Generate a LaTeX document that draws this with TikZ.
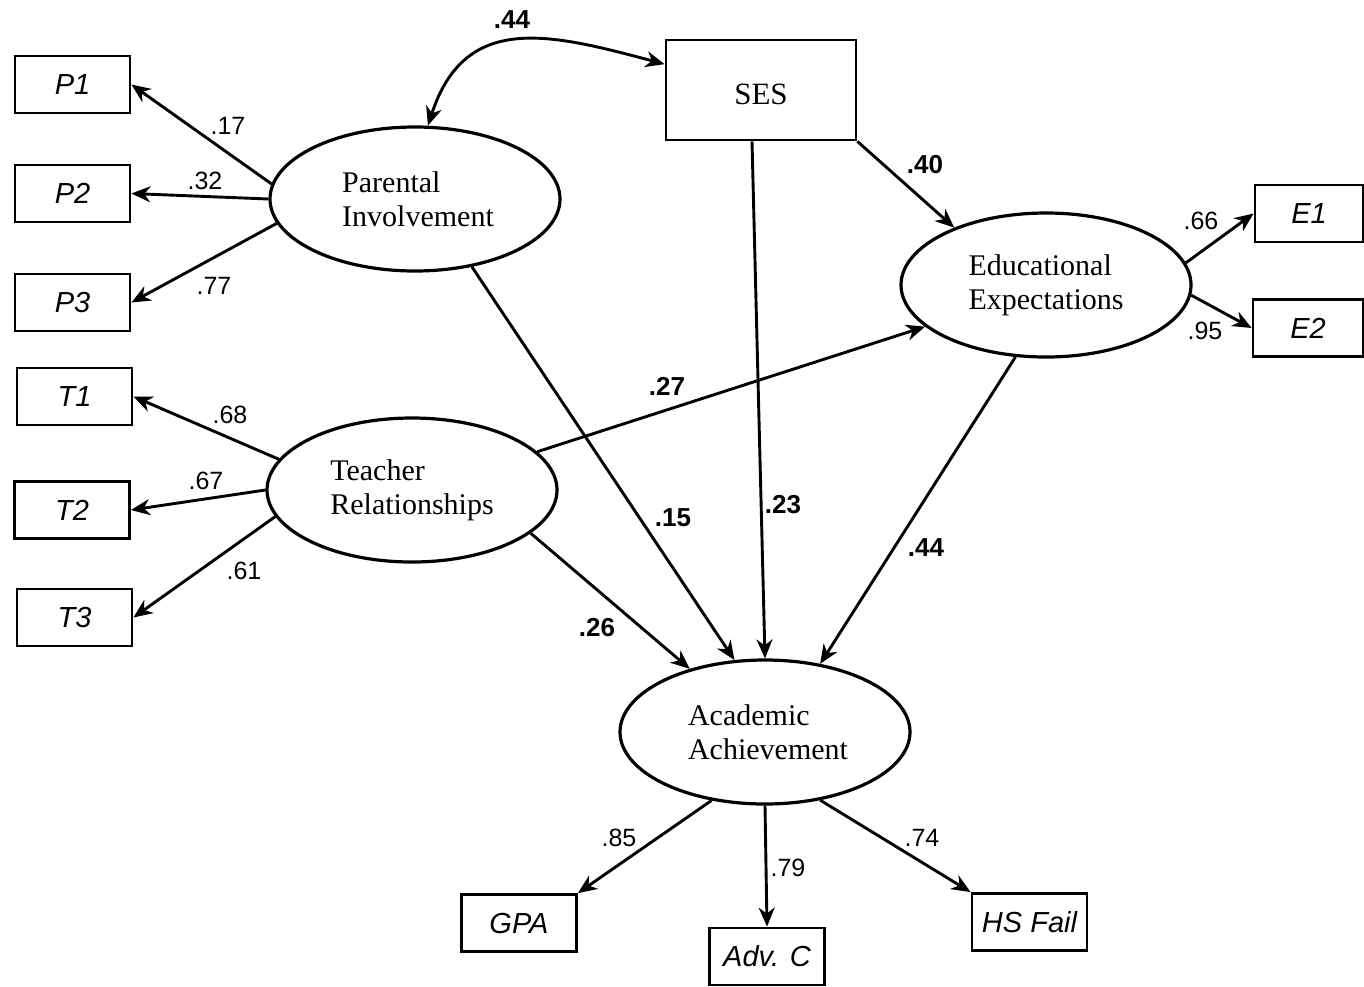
\documentclass[tikz,border=0pt]{standalone}
\usepackage{fontspec}
\setmainfont{Liberation Serif}
\newfontfamily\arialf{Liberation Sans}
\usetikzlibrary{shapes.geometric,arrows.meta}
\begin{document}
\begin{tikzpicture}[x=1pt,y=1pt,
  obs/.style={draw, line width=2.8pt, minimum width=115pt, minimum height=57pt, inner sep=0pt, font=\arialf\itshape\fontsize{29}{34}\selectfont},
  lat/.style={ellipse, draw, line width=3.2pt, minimum width=290pt, minimum height=144pt, inner sep=0pt, align=left, font=\fontsize{30}{34}\selectfont},
  lab/.style={font=\arialf\fontsize{25}{28}\selectfont, inner sep=0pt},
  blab/.style={font=\arialf\bfseries\fontsize{26}{28}\selectfont, inner sep=0pt},
  arr/.style={line width=2.9pt, -{Stealth[length=19pt,width=16pt,inset=6pt]}},
  darr/.style={line width=2.9pt, {Stealth[length=19pt,width=16pt,inset=6pt]}-{Stealth[length=19pt,width=16pt,inset=6pt]}}
]
\useasboundingbox (0,0) rectangle (1364,-986);
% observed
\node[obs] (P1) at (72.5,-84.5) {P1};
\node[obs] (P2) at (72.5,-193.5) {P2};
\node[obs] (P3) at (72.5,-302.5) {P3};
\node[obs] (T1) at (74.5,-396.5) {T1};
\node[obs] (T2) at (72,-510) {T2};
\node[obs] (T3) at (74.5,-617.5) {T3};
\node[obs, minimum width=108pt] (E1) at (1309,-213.5) {E1};
\node[obs, minimum width=110pt] (E2) at (1308,-328) {E2};
\node[obs] (GPA) at (519,-923) {GPA};
\node[obs] (ADV) at (767,-956.5) {Adv. C};
\node[obs] (HS) at (1029.5,-922) {HS Fail};
\node[draw, line width=2.8pt, minimum width=190pt, minimum height=100pt, inner sep=0pt, text height=28pt, text depth=0pt, font=\fontsize{31}{34}\selectfont] (SES) at (761,-90) {SES};
% latent
\node[lat] (PI) at (415,-199) {\hspace{6pt}Parental\\\hspace{6pt}Involvement};
\node[lat] (TR) at (412,-490) {Teacher\\Relationships};
\node[lat] (EE) at (1046,-285) {Educational\\Expectations};
\node[lat] (AA) at (765,-732) {\hspace{6pt}Academic\\\hspace{6pt}Achievement};
% measurement arrows
\draw[arr] (PI.174) -- (P1.east);
\draw[arr] (PI.west) -- (P2.east);
\draw[arr] (PI.190) -- (P3.east);
\draw[arr] (TR.167) -- (T1.east);
\draw[arr] (TR.west) -- (T2.east);
\draw[arr] (TR.191) -- (T3.east);
\draw[arr] (EE.9) -- (E1.west);
\draw[arr] (EE.356) -- (E2.west);
\draw[arr] (AA.232) -- (GPA.north east);
\draw[arr] (AA.south) -- (ADV.north);
\draw[arr] (AA.309) -- (HS.north west);
% structural arrows
\draw[arr] (SES.south east) -- (EE.148);
\draw[arr] ([xshift=-9pt]SES.south) -- (AA.north);
\draw[arr] (PI.310) -- (AA.113);
\draw[arr] (TR.340) -- (AA.140);
\draw[arr] (TR.17) -- (EE.199);
\draw[arr] (EE.247) -- (AA.51);
\draw[darr] (PI.80) to[out=72, in=165, looseness=1.25] (SES.165);
% labels
\node[blab] (l44a) at (512,-20) {.44};
\node[lab] (l17) at (228,-126) {.17};
\node[lab] (l32) at (205,-181) {.32};
\node[lab] (l77) at (214,-286) {.77};
\node[lab] (l68) at (230,-415) {.68};
\node[lab] (l67) at (206,-481) {.67};
\node[lab] (l61) at (244,-571) {.61};
\node[blab] (l40) at (925,-165) {.40};
\node[blab] (l27) at (667,-386) {.27};
\node[blab] (l15) at (673,-518) {.15};
\node[blab] (l23) at (783,-505) {.23};
\node[blab] (l44b) at (926,-548) {.44};
\node[blab] (l26) at (597,-628) {.26};
\node[lab] (l66) at (1201,-221) {.66};
\node[lab] (l95) at (1205,-331) {.95};
\node[lab] (l85) at (619,-838) {.85};
\node[lab] (l79) at (788,-868) {.79};
\node[lab] (l74) at (922,-838) {.74};
\end{tikzpicture}
\end{document}
